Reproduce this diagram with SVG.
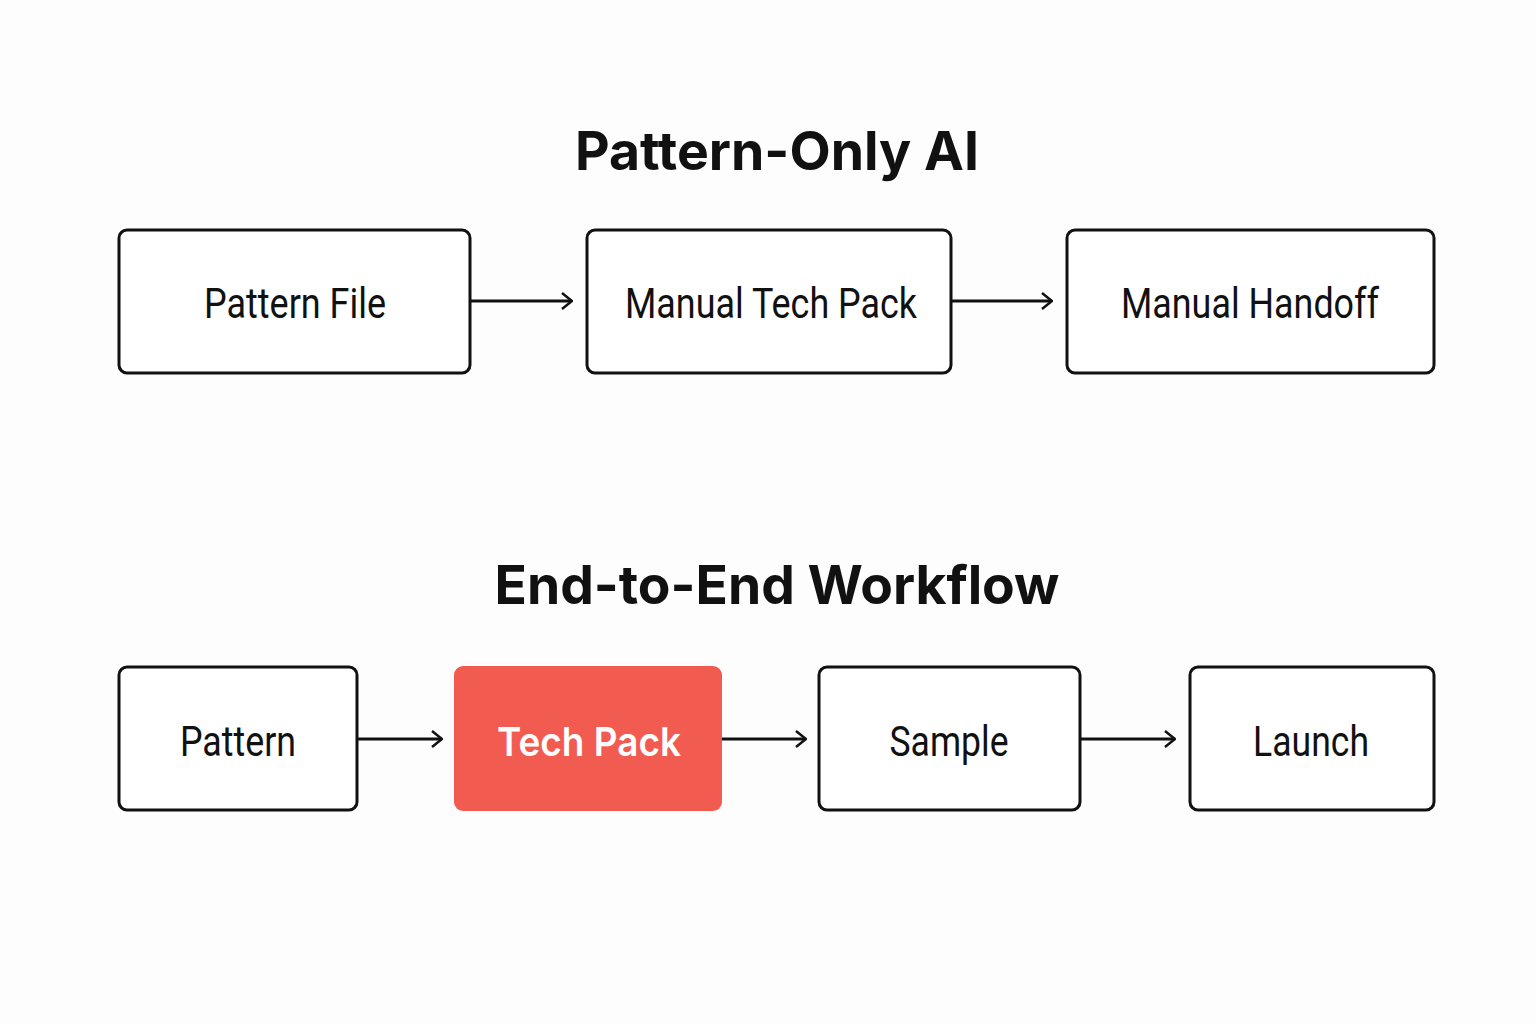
<svg xmlns="http://www.w3.org/2000/svg" width="1536" height="1024" viewBox="0 0 1536 1024">
<style>
.bg{fill:#fdfdfd}
.box{fill:#ffffff;stroke:#111;stroke-width:3}
.hl{fill:#f25b50}
.lbl{font-family:Roboto,"Liberation Sans",sans-serif;font-size:42px;fill:#111;text-anchor:middle}
.lblw{font-family:Inter,"Liberation Sans",sans-serif;font-size:40px;font-weight:600;fill:#fff;text-anchor:middle}
.ttl{font-family:Inter,"Liberation Sans",sans-serif;font-size:54px;font-weight:700;fill:#111;text-anchor:middle}
.conn{stroke:#111;stroke-width:3;fill:none;marker-end:url(#arr)}
</style>
<defs>
<marker id="arr" viewBox="0 0 12 18" refX="11" refY="9" markerWidth="12" markerHeight="18" markerUnits="userSpaceOnUse" orient="auto">
<path d="M1,1 L11,9 L1,17" fill="none" stroke="#111" stroke-width="2.5"/>
</marker>
</defs>
<rect class="bg" x="0" y="0" width="1536" height="1024"/>
<text class="ttl" x="777" y="170" textLength="404" lengthAdjust="spacingAndGlyphs">Pattern-Only AI</text>
<text class="ttl" x="777" y="604" textLength="565" lengthAdjust="spacingAndGlyphs">End-to-End Workflow</text>
<g id="n-pattern-file"><rect class="box" x="119" y="230" width="351" height="143" rx="8"/><text class="lbl" x="295" y="318" textLength="182" lengthAdjust="spacingAndGlyphs">Pattern File</text></g>
<g id="n-manual-tech-pack"><rect class="box" x="587" y="230" width="364" height="143" rx="8"/><text class="lbl" x="771" y="318" textLength="292" lengthAdjust="spacingAndGlyphs">Manual Tech Pack</text></g>
<g id="n-manual-handoff"><rect class="box" x="1067" y="230" width="367" height="143" rx="8"/><text class="lbl" x="1250" y="318" textLength="258" lengthAdjust="spacingAndGlyphs">Manual Handoff</text></g>
<g id="n-pattern"><rect class="box" x="119" y="667" width="238" height="143" rx="8"/><text class="lbl" x="238" y="756" textLength="116" lengthAdjust="spacingAndGlyphs">Pattern</text></g>
<g id="n-tech-pack"><rect class="hl" x="454" y="666" width="268" height="145" rx="9"/><text class="lblw" x="589" y="756" textLength="184" lengthAdjust="spacingAndGlyphs">Tech Pack</text></g>
<g id="n-sample"><rect class="box" x="819" y="667" width="261" height="143" rx="8"/><text class="lbl" x="949" y="756" textLength="119" lengthAdjust="spacingAndGlyphs">Sample</text></g>
<g id="n-launch"><rect class="box" x="1190" y="667" width="244" height="143" rx="8"/><text class="lbl" x="1311" y="756" textLength="116" lengthAdjust="spacingAndGlyphs">Launch</text></g>
<g id="connectors">
<line class="conn" x1="471" y1="301" x2="572" y2="301"/>
<line class="conn" x1="952" y1="301" x2="1052" y2="301"/>
<line class="conn" x1="358" y1="739" x2="442" y2="739"/>
<line class="conn" x1="722" y1="739" x2="806" y2="739"/>
<line class="conn" x1="1081" y1="739" x2="1175" y2="739"/>
</g>
</svg>
